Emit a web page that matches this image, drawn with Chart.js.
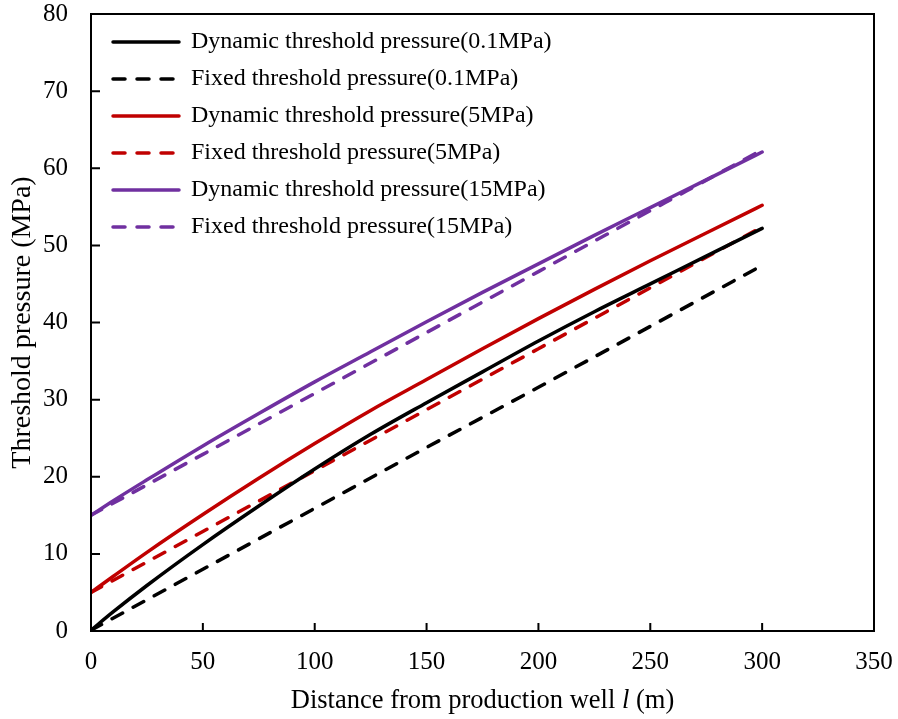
<!DOCTYPE html>
<html>
<head>
<meta charset="utf-8">
<script src="https://cdn.jsdelivr.net/npm/chart.js@4"></script>
<style>
  html, body { margin: 0; padding: 0; background: #fff; }
  #wrap { width: 898px; height: 719px; }
</style>
</head>
<body>
<div id="wrap"><canvas id="c" width="898" height="719"></canvas></div>
<script>
/* ====== data ====== */
const distDyn   = [0, 10, 25, 50, 75, 100, 125, 150, 175, 200, 225, 250, 275, 300];
const dyn01     = [0.1, 2.5, 5.9, 11.2, 16.2, 21.0, 25.5, 29.6, 33.6, 37.6, 41.4, 45.0, 48.6, 52.2];
const dyn5      = [5.0, 7.1, 10.2, 15.1, 19.8, 24.3, 28.6, 32.6, 36.6, 40.5, 44.3, 48.0, 51.6, 55.2];
const dyn15     = [15.0, 16.9, 19.6, 24.0, 28.2, 32.3, 36.2, 40.1, 43.9, 47.6, 51.3, 54.9, 58.5, 62.1];

const distFix   = [0, 50, 100, 150, 200, 250, 300];
const fix01     = [0.1, 8.0, 15.9, 23.8, 31.6, 39.5, 47.4];
const fix5      = [5.0, 12.9, 20.8, 28.7, 36.6, 44.5, 52.4];
const fix15     = [15.0, 22.9, 30.8, 38.7, 46.6, 54.5, 62.4];

const xTicks = [0, 50, 100, 150, 200, 250, 300, 350];
const yTicks = [0, 10, 20, 30, 40, 50, 60, 70, 80];

const labels = [
  'Dynamic threshold pressure(0.1MPa)',
  'Fixed threshold pressure(0.1MPa)',
  'Dynamic threshold pressure(5MPa)',
  'Fixed threshold pressure(5MPa)',
  'Dynamic threshold pressure(15MPa)',
  'Fixed threshold pressure(15MPa)'
];

const BLACK = '#000000', RED = '#C00000', PURPLE = '#7030A0';
const FONT = '"Liberation Serif", "Times New Roman", serif';
const LW = 3.5;

const pts = (xs, ys) => xs.map((x, i) => ({x, y: ys[i]}));
const line = (label, xs, ys, color, dashed) => ({
  label, data: pts(xs, ys),
  borderColor: color, backgroundColor: color,
  borderWidth: LW, borderCapStyle: 'round',
  borderDash: dashed ? [12, 12] : [],
  pointRadius: 0, cubicInterpolationMode: 'monotone', fill: false
});

/* ====== frame, inward ticks, x title ====== */
const framePlugin = {
  id: 'frame',
  afterLayout(chart){
    // nudge the legend to where the figure has it
    chart.legend.left += 9;  chart.legend.right += 9;
    chart.legend.top += 17;  chart.legend.bottom += 17;
  },
  afterDraw(chart){
    const {ctx, chartArea: a, scales: {x, y}} = chart;
    ctx.save();
    ctx.strokeStyle = '#000';
    ctx.lineWidth = 2;
    ctx.beginPath();
    xTicks.forEach(v => { const p = x.getPixelForValue(v); ctx.moveTo(p, a.bottom); ctx.lineTo(p, a.bottom - 8); });
    yTicks.forEach(v => { const p = y.getPixelForValue(v); ctx.moveTo(a.left, p); ctx.lineTo(a.left + 9, p); });
    ctx.stroke();
    ctx.strokeRect(a.left, a.top, a.right - a.left, a.bottom - a.top);

    // x title with italic "l"
    const parts = [['Distance from production well ', 'normal'], ['l', 'italic'], [' (m)', 'normal']];
    let w = 0;
    parts.forEach(p => { ctx.font = p[1] + ' 26.5px ' + FONT; w += ctx.measureText(p[0]).width; });
    let px = (a.left + a.right) / 2 - w / 2;
    ctx.fillStyle = '#000';
    ctx.textBaseline = 'middle';
    ctx.textAlign = 'left';
    parts.forEach(p => {
      ctx.font = p[1] + ' 26.5px ' + FONT;
      ctx.fillText(p[0], px, 701);
      px += ctx.measureText(p[0]).width;
    });
    ctx.restore();
  }
};

const noPad = s => { s.paddingTop = 0; s.paddingBottom = 0; s.paddingLeft = 0; s.paddingRight = 0; };

new Chart(document.getElementById('c'), {
  type: 'line',
  data: {
    datasets: [
      line(labels[0], distDyn, dyn01, BLACK, false),
      line(labels[1], distFix, fix01, BLACK, true),
      line(labels[2], distDyn, dyn5, RED, false),
      line(labels[3], distFix, fix5, RED, true),
      line(labels[4], distDyn, dyn15, PURPLE, false),
      line(labels[5], distFix, fix15, PURPLE, true)
    ]
  },
  options: {
    responsive: false,
    animation: false,
    layout: { padding: { top: 14, right: 24, left: 0, bottom: 0 } },
    plugins: {
      tooltip: { enabled: false },
      legend: {
        position: 'chartArea',
        align: 'start',
        labels: {
          usePointStyle: true, pointStyle: 'line', pointStyleWidth: 66,
          padding: 13, color: '#000',
          font: { family: FONT, size: 24 },
          generateLabels: chart => chart.data.datasets.map((ds, i) => ({
            text: ds.label, datasetIndex: i, hidden: false,
            strokeStyle: ds.borderColor, fillStyle: ds.borderColor, fontColor: '#000',
            lineWidth: LW, lineDash: ds.borderDash, lineCap: 'round', pointStyle: 'line'
          }))
        }
      }
    },
    scales: {
      x: {
        type: 'linear', min: 0, max: 350,
        afterBuildTicks: s => { s.ticks = xTicks.map(v => ({value: v})); },
        afterFit: s => { s.height = 88; noPad(s); },
        grid: { display: false }, border: { display: false },
        ticks: { color: '#000', padding: 8, maxRotation: 0, font: { family: FONT, size: 25 } },
        title: { display: false }
      },
      y: {
        type: 'linear', min: 0, max: 80,
        afterBuildTicks: s => { s.ticks = yTicks.map(v => ({value: v})); },
        afterFit: s => { s.width = 91; noPad(s); },
        grid: { display: false }, border: { display: false },
        ticks: { color: '#000', padding: 15, font: { family: FONT, size: 25 } },
        title: {
          display: true, text: 'Threshold pressure (MPa)', color: '#000',
          font: { family: FONT, size: 28 }, padding: { top: 6, bottom: 0 }
        }
      }
    }
  },
  plugins: [framePlugin]
});
</script>
</body>
</html>
